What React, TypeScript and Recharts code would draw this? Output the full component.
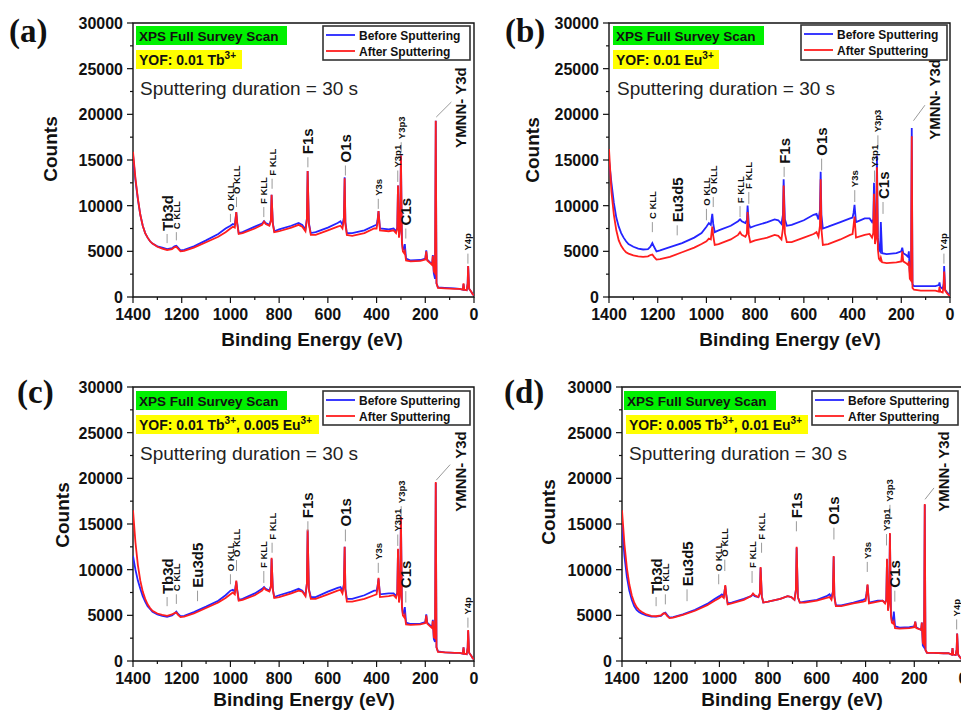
import React from "react";
import { LineChart, Line, XAxis, YAxis, ReferenceArea, ReferenceLine, ReferenceDot } from "recharts";

// binding energy grid (eV), shared by all four spectra
const energy = [
  1400, 1390, 1380, 1370, 1360, 1350, 1340, 1330, 1320,
  1300, 1280, 1260, 1240, 1230, 1222, 1215, 1205, 1190,
  1150, 1100, 1050, 1020, 1000, 990, 982, 976, 972, 966,
  950, 900, 870, 862, 855, 840, 834, 831, 826, 820,
  800, 750, 720, 705, 692, 686, 683, 678, 670, 650,
  600, 560, 548, 540, 534, 531, 528, 522, 500, 450,
  410, 400, 396, 392, 386, 350, 330, 320, 315, 312,
  308, 303, 300, 296, 292, 287, 284, 279, 260, 220,
  200, 196, 192, 180, 172, 169, 165, 160, 157, 154,
  148, 120, 80, 60, 46, 43, 40, 30, 26, 24,
  20, 12, 5, 0,
];

// (a) YOF: 0.01 Tb
const afterA = [
  15900, 13000, 10800, 9000, 7800, 7000, 6500, 6100, 5850,
  5500, 5300, 5150, 5250, 5450, 5500, 5300, 5000, 5050,
  5400, 6000, 6600, 7100, 7500, 7700, 7600, 9300, 8000, 6900,
  7000, 7500, 7900, 8250, 8000, 7800, 8300, 11200, 8000, 7100,
  7200, 7600, 7900, 7700, 7200, 8500, 13800, 8000, 6800, 6800,
  7300, 7700, 7800, 7500, 8500, 13000, 8000, 6800, 6700, 7000,
  7500, 7500, 8200, 9400, 7300, 7200, 7300, 7000, 7500, 12200,
  6500, 7500, 15500, 6000, 5000, 4800, 5000, 4000, 3900, 3950,
  4100, 5000, 4000, 3700, 3500, 4500, 2800, 2600, 19300, 1500,
  1000, 950, 900, 900, 800, 1500, 800, 750, 1500, 3400,
  900, 600, 300, 200,
];
const beforeA = [
  15600, 12800, 10700, 9000, 7800, 7000, 6500, 6100, 5850,
  5550, 5400, 5250, 5350, 5550, 5600, 5400, 5100, 5150,
  5550, 6200, 6900, 7500, 7800, 8000, 7900, 9300, 8100, 7000,
  7100, 7700, 8050, 8300, 8100, 7900, 8400, 11200, 8100, 7200,
  7400, 7800, 8100, 7900, 7400, 8600, 13800, 8100, 7000, 7100,
  7600, 8100, 8300, 7900, 8700, 13100, 8200, 7000, 7000, 7300,
  7800, 7900, 8400, 9400, 7500, 7400, 7500, 7200, 7600, 12200,
  6600, 7600, 15500, 6100, 5200, 5200, 5800, 4200, 4000, 4050,
  4200, 5100, 4100, 3800, 3600, 4600, 2600, 2000, 19300, 1500,
  1050, 1000, 950, 900, 800, 1400, 800, 750, 1500, 3400,
  900, 600, 300, 200,
];

// (b) YOF: 0.01 Eu
const afterB = [
  16200, 11500, 9000, 7300, 6200, 5600, 5200, 4900, 4750,
  4550, 4450, 4400, 4450, 4600, 4650, 4400, 4100, 4150,
  4400, 4900, 5400, 5800, 6100, 6400, 6300, 7700, 6700, 5700,
  5800, 6300, 6800, 7100, 6800, 6600, 6900, 9300, 6800, 6000,
  6200, 6500, 6800, 6700, 6300, 7500, 12200, 7000, 6000, 6000,
  6500, 6900, 7100, 6600, 7800, 12900, 7500, 5700, 5800, 6300,
  6800, 6900, 7800, 8800, 6500, 6800, 6900, 6500, 7000, 11300,
  5800, 6500, 14200, 5200, 4200, 4000, 4300, 3800, 3700, 3800,
  3900, 5000, 3900, 3700, 3500, 3900, 2000, 1800, 17600, 1000,
  800, 700, 700, 700, 600, 1100, 600, 500, 1200, 2800,
  700, 400, 200, 150,
];
const beforeB = [
  15000, 12500, 10300, 8700, 7700, 7000, 6500, 6100, 5800,
  5500, 5300, 5200, 5250, 5500, 5900, 5500, 5000, 5100,
  5450, 5900, 6500, 7000, 7700, 8100, 7900, 9100, 8000, 7100,
  7300, 7800, 8300, 8500, 8300, 8100, 8400, 10000, 8000, 7600,
  7800, 8200, 8500, 8400, 8000, 9000, 12900, 8500, 7800, 7900,
  8400, 9000, 9100, 8500, 9500, 13700, 9000, 7500, 7700, 8200,
  8600, 8700, 9200, 10100, 8200, 8600, 8600, 8200, 8500, 12500,
  7000, 7800, 15500, 6500, 5200, 5000, 8200, 4800, 4700, 4800,
  5000, 5400, 4800, 4600, 4400, 5000, 2700, 2200, 18500, 1400,
  1200, 1200, 1200, 1200, 1300, 1600, 1100, 900, 1500, 3400,
  800, 500, 300, 200,
];

// (c) YOF: 0.01 Tb, 0.005 Eu
const afterC = [
  16500, 13000, 10500, 8800, 7600, 6800, 6200, 5800, 5500,
  5200, 5050, 4950, 5100, 5250, 5300, 5050, 4800, 4850,
  5200, 5800, 6400, 6900, 7300, 7500, 7300, 8800, 7700, 6600,
  6700, 7200, 7700, 8000, 7800, 7600, 8100, 11300, 7800, 6900,
  7000, 7400, 7700, 7600, 7100, 8500, 14400, 7800, 6800, 6800,
  7300, 7700, 7800, 7400, 8300, 12500, 7800, 6500, 6500, 6800,
  7200, 7300, 8000, 9100, 7000, 7100, 7200, 6900, 7400, 12300,
  6400, 7400, 15800, 6000, 5000, 4800, 5000, 4000, 3950, 4000,
  4150, 5000, 4100, 3800, 3600, 4400, 2600, 2500, 19600, 1500,
  1000, 950, 900, 900, 800, 1500, 800, 750, 1500, 3400,
  900, 600, 300, 200,
];
const beforeC = [
  11500, 10000, 8800, 7900, 7100, 6500, 6000, 5700, 5400,
  5100, 4950, 4850, 5000, 5200, 5400, 5150, 4900, 4950,
  5350, 5950, 6600, 7200, 7700, 7800, 7600, 8700, 7800, 6700,
  6800, 7400, 7900, 8100, 7900, 7700, 8200, 11200, 7900, 7000,
  7200, 7600, 7900, 7700, 7200, 8500, 14300, 7900, 7000, 7000,
  7600, 8000, 8100, 7700, 8400, 12500, 7900, 6800, 6800, 7200,
  7700, 7700, 8200, 9000, 7300, 7400, 7400, 7100, 7500, 12200,
  6500, 7500, 15700, 6100, 5200, 5200, 5900, 4200, 4050, 4100,
  4250, 5100, 4200, 3900, 3700, 4500, 2400, 2100, 19500, 1500,
  1050, 950, 900, 900, 800, 1500, 800, 750, 1500, 3300,
  900, 600, 300, 200,
];

// (d) YOF: 0.005 Tb, 0.01 Eu
const afterD = [
  16500, 12800, 10200, 8400, 7200, 6400, 5900, 5600, 5400,
  5100, 4950, 4900, 5000, 5200, 5200, 4950, 4700, 4750,
  5050, 5500, 6100, 6600, 6900, 7100, 6900, 8300, 7200, 6200,
  6300, 6700, 7100, 7400, 7200, 7000, 7400, 10300, 7100, 6400,
  6500, 6800, 7100, 7000, 6700, 7800, 12500, 7000, 6400, 6400,
  6600, 6900, 7000, 6700, 7500, 11500, 7000, 6000, 6000, 6300,
  6500, 6600, 7300, 8400, 6300, 6500, 6600, 6300, 6700, 11200,
  5500, 6600, 14000, 5000, 4200, 4100, 4300, 3600, 3550, 3600,
  3700, 4300, 3600, 3500, 3400, 4200, 2000, 1800, 17200, 1200,
  900, 900, 850, 850, 700, 1400, 700, 650, 1300, 3000,
  700, 400, 200, 100,
];
const beforeD = [
  15000, 11500, 9200, 7700, 6700, 6000, 5600, 5350, 5200,
  5000, 4850, 4850, 4950, 5200, 5300, 5050, 4750, 4800,
  5100, 5600, 6250, 6800, 7100, 7300, 7100, 8200, 7300, 6300,
  6400, 6800, 7100, 7300, 7100, 7000, 7400, 10200, 7100, 6400,
  6500, 6800, 7100, 7000, 6700, 7800, 12400, 7000, 6400, 6500,
  6700, 7100, 7300, 7000, 7600, 11400, 7100, 6100, 6100, 6400,
  6700, 6800, 7400, 8300, 6400, 6600, 6600, 6400, 6700, 11100,
  5600, 6700, 13900, 5200, 4400, 4400, 5400, 3800, 3650, 3700,
  3800, 4300, 3700, 3500, 3400, 4200, 1700, 1500, 17100, 1200,
  900, 900, 850, 850, 700, 1400, 700, 650, 1300, 3000,
  700, 400, 200, 100,
];

const xTicks = [0, 100, 200, 300, 400, 500, 600, 700, 800, 900, 1000, 1100, 1200, 1300, 1400];
const yTicks = [0, 2500, 5000, 7500, 10000, 12500, 15000, 17500, 20000, 22500, 25000, 27500, 30000];

// peak labels: [text, eV, leader bottom, leader top]
type Note = [string, number, number, number];
const notesA: Note[] = [
  ["Tb3d", 1260, 5900, 6900], ["C KLL", 1222, 6200, 7100], ["O KLL", 1000, 8200, 9100],
  ["O KLL", 975, 9850, 10950], ["F KLL", 863, 8750, 9850], ["F KLL", 829, 11850, 12950],
  ["F1s", 682, 14200, 15300], ["O1s", 528, 13300, 14400], ["Y3s", 393, 9650, 10750],
  ["Y3p1", 313, 12600, 13850], ["Y3p3", 299, 15850, 16950], ["C1s", 280, 6400, 7500],
  ["Y4p", 25, 3650, 4750],
];
const notesB: Note[] = [
  ["C KLL", 1222, 7100, 8200], ["Eu3d5", 1120, 6750, 7850], ["O KLL", 1000, 8400, 9650],
  ["O KLL", 972, 9850, 10950], ["F KLL", 862, 8750, 9950], ["F KLL", 826, 10200, 11500],
  ["F1s", 681, 13150, 14250], ["O1s", 527, 13850, 15150], ["Y3s", 391, 10400, 11700],
  ["Y3p1", 310, 12600, 13850], ["Y3p3", 296, 16400, 17700], ["C1s", 275, 9100, 10400],
  ["Y4p", 25, 3650, 4750],
];
const notesC: Note[] = [
  ["Tb3d", 1260, 6000, 7000], ["C KLL", 1222, 6250, 7300], ["Eu3d5", 1135, 6550, 7700],
  ["O KLL", 1000, 8400, 9500], ["O KLL", 975, 9850, 11050], ["F KLL", 863, 8550, 9850],
  ["F KLL", 829, 11850, 12950], ["F1s", 682, 14200, 15300], ["O1s", 528, 13100, 14400],
  ["Y3s", 393, 9650, 10750], ["Y3p1", 313, 12600, 13850], ["Y3p3", 299, 15850, 16950],
  ["C1s", 280, 6400, 7650], ["Y4p", 25, 3650, 4750],
];
const notesD: Note[] = [
  ["Tb3d", 1260, 6000, 7000], ["C KLL", 1222, 6200, 7300], ["Eu3d5", 1133, 6550, 7850],
  ["O KLL", 1003, 8400, 9500], ["O KLL", 978, 9850, 11100], ["F KLL", 866, 8550, 9850],
  ["F KLL", 827, 11850, 12950], ["F1s", 684, 14200, 15300], ["O1s", 530, 13300, 14600],
  ["Y3s", 393, 9750, 10850], ["Y3p1", 314, 12650, 13900], ["Y3p3", 300, 16000, 17100],
  ["C1s", 280, 6500, 7700], ["Y4p", 26, 3450, 4550],
];

// YMNN- Y3d: leader from [eV, counts] to [eV, counts], label start [eV, counts]
const y3dA = [155, 19700, 93, 21350, 55, 15700];
const y3dB = [150, 19300, 103, 21000, 62, 16600];
const y3dC = [155, 19800, 98, 21500, 57, 15700];
const y3dD = [156, 17700, 119, 18950, 78, 15700];

const dopantsA = [["0.01", "Tb"]];
const dopantsB = [["0.01", "Eu"]];
const dopantsC = [["0.01", "Tb"], ["0.005", "Eu"]];
const dopantsD = [["0.005", "Tb"], ["0.01", "Eu"]];

const bigLabels = ["Tb3d", "Eu3d5", "F1s", "O1s", "C1s", "YMNN- Y3d"];

const SANS = '"Liberation Sans", Arial, sans-serif';
const SERIF = '"Liberation Serif", "Times New Roman", serif';
const W = 490;
const H = 355;
const PW = 341;
const PH = 274;

function YTick(props: any) {
  const { x, y, payload } = props;
  const major = payload.value % 5000 === 0;
  return (
    <g>
      <line x1={x + (major ? 4 : 7)} x2={x + 10} y1={y} y2={y} stroke="#111" strokeWidth={1.2} />
      {major && (
        <text x={x} y={y + 6} textAnchor="end" fontSize={16} fontWeight="bold" fill="#111">
          {payload.value}
        </text>
      )}
    </g>
  );
}

function XTick(props: any) {
  const { x, y, payload } = props;
  const major = payload.value % 200 === 0;
  return (
    <g>
      <line x1={x} x2={x} y1={y - 8} y2={y - (major ? 2 : 5)} stroke="#111" strokeWidth={1.2} />
      {major && (
        <text x={x} y={y + 15} textAnchor="middle" fontSize={16} fontWeight="bold" fill="#111">
          {payload.value}
        </text>
      )}
    </g>
  );
}

function noteShape(label: string) {
  const size = bigLabels.includes(label) ? 15 : 9.5;
  return (p: any) => {
    const ty = p.cy - 3;
    return (
      <text
        x={p.cx}
        y={ty}
        transform={`rotate(-90 ${p.cx} ${ty})`}
        textAnchor="start"
        dominantBaseline="central"
        fontSize={size}
        fontWeight="bold"
        fill="#111"
      >
        {label}
      </text>
    );
  };
}

type Box = {
  left: number; top: number; plotLeft: number; plotTop: number;
  letter: number[]; green: number[]; yellow: number[]; sput: number[];
  legend: number[]; counts: number[]; title: number[];
};

const boxA: Box = {
  left: 0, top: 0, plotLeft: 133, plotTop: 23,
  letter: [9, 42], green: [136, 26, 151], yellow: [136, 50, 106], sput: [140, 95],
  legend: [323, 26, 147, 34], counts: [50, 149], title: [312, 346],
};
const boxB: Box = {
  left: 480, top: 0, plotLeft: 129, plotTop: 23,
  letter: [25, 42], green: [133, 26, 151], yellow: [133, 50, 106], sput: [137, 95],
  legend: [321, 25, 146, 35], counts: [52, 150], title: [310, 346],
};
const boxC: Box = {
  left: 0, top: 355, plotLeft: 133, plotTop: 32,
  letter: [17, 48], green: [136, 36, 151], yellow: [136, 60, 183], sput: [140, 105],
  legend: [323, 36, 147, 34], counts: [62, 160], title: [304, 351],
};
const boxD: Box = {
  left: 480, top: 355, plotLeft: 142, plotTop: 32,
  letter: [24, 48], green: [144, 36, 152], yellow: [146, 60, 182], sput: [149, 105],
  legend: [332, 36, 146, 34], counts: [68, 157], title: [312, 351],
};

function Panel({ letter, before, after, notes, y3d, dopants, box }: {
  letter: string; before: number[]; after: number[]; notes: Note[];
  y3d: number[]; dopants: string[][]; box: Box;
}) {
  const rows = energy.map((e, i) => ({ e, before: before[i], after: after[i] }));
  const margin = {
    top: box.plotTop,
    right: W - box.plotLeft - PW,
    bottom: H - box.plotTop - PH - 30,
    left: box.plotLeft - 70,
  };
  const [gx, gy, gw] = box.green;
  const [yx, yy, yw] = box.yellow;
  const [lx, ly, lw, lh] = box.legend;
  return (
    <div style={{ position: "absolute", left: box.left, top: box.top, width: W, height: H }}>
      <LineChart width={W} height={H} data={rows} margin={margin}>
        <XAxis
          type="number"
          dataKey="e"
          domain={[0, 1400]}
          reversed
          ticks={xTicks}
          interval={0}
          tick={(p: any) => <XTick {...p} />}
          tickLine={false}
          axisLine={false}
          tickSize={6}
          tickMargin={2}
          height={30}
          allowDataOverflow
        />
        <YAxis
          type="number"
          domain={[0, 30000]}
          ticks={yTicks}
          interval={0}
          tick={(p: any) => <YTick {...p} />}
          tickLine={false}
          axisLine={false}
          tickSize={6}
          tickMargin={4}
          width={70}
          allowDataOverflow
        />
        <ReferenceArea x1={0} x2={1400} y1={0} y2={30000} fill="none" stroke="#111" strokeWidth={1.4} />
        <Line type="linear" dataKey="before" stroke="#2424ff" strokeWidth={1.8} dot={false} isAnimationActive={false} />
        <Line type="linear" dataKey="after" stroke="#ff1e1e" strokeWidth={1.8} dot={false} isAnimationActive={false} />
        {notes.map(([label, ev, lo, hi], i) => (
          <ReferenceLine key={"l" + i} segment={[{ x: ev, y: lo }, { x: ev, y: hi }]} stroke="#9a9a9a" strokeWidth={1} />
        ))}
        {notes.map(([label, ev, lo, hi], i) => (
          <ReferenceDot key={"t" + i} x={ev} y={hi} shape={noteShape(label)} />
        ))}
        <ReferenceLine segment={[{ x: y3d[0], y: y3d[1] }, { x: y3d[2], y: y3d[3] }]} stroke="#9a9a9a" strokeWidth={1} />
        <ReferenceDot x={y3d[4]} y={y3d[5] + 300} shape={noteShape("YMNN- Y3d")} />
      </LineChart>
      <svg width={W} height={H} style={{ position: "absolute", left: 0, top: 0, pointerEvents: "none" }}>
        <text x={box.letter[0]} y={box.letter[1]} fontFamily={SERIF} fontWeight="bold" fontSize={33} fill="#111">
          ({letter})
        </text>
        <rect x={gx} y={gy} width={gw} height={19} fill="#00f000" />
        <text x={gx + 3} y={gy + 14.5} fontSize={13.5} fontWeight="bold" fill="#111">
          XPS Full Survey Scan
        </text>
        <rect x={yx} y={yy} width={yw} height={19} fill="#ffff00" />
        <text x={yx + 3} y={yy + 15} fontSize={14} fontWeight="bold" fill="#111">
          {dopants.map(([amt, ion], i) => (
            <React.Fragment key={i}>
              <tspan dy={i ? 6 : 0}>{(i ? ", " : "YOF: ") + amt + " " + ion}</tspan>
              <tspan fontSize={10} dy={-6}>3+</tspan>
            </React.Fragment>
          ))}
        </text>
        <text x={box.sput[0]} y={box.sput[1]} fontSize={19} fill="#222">
          Sputtering duration = 30 s
        </text>
        <rect x={lx} y={ly} width={lw} height={lh} fill="#fff" stroke="#333" strokeWidth={1.6} />
        <line x1={lx + 3} x2={lx + 32} y1={ly + 9} y2={ly + 9} stroke="#2424ff" strokeWidth={1.8} />
        <line x1={lx + 3} x2={lx + 32} y1={ly + 25} y2={ly + 25} stroke="#ff1e1e" strokeWidth={1.8} />
        <text x={lx + 36} y={ly + 13.5} fontSize={12} fontWeight="bold" fill="#111">Before Sputtering</text>
        <text x={lx + 36} y={ly + 29.5} fontSize={12} fontWeight="bold" fill="#111">After Sputtering</text>
        <text
          x={box.counts[0]}
          y={box.counts[1]}
          transform={`rotate(-90 ${box.counts[0]} ${box.counts[1]})`}
          textAnchor="middle"
          dominantBaseline="central"
          fontSize={19}
          fontWeight="bold"
          fill="#111"
        >
          Counts
        </text>
        <text x={box.title[0]} y={box.title[1]} textAnchor="middle" fontSize={19} fontWeight="bold" fill="#111">
          Binding Energy (eV)
        </text>
      </svg>
    </div>
  );
}

export default function App() {
  return (
    <div
      style={{
        position: "absolute",
        left: 0,
        top: 0,
        width: 961,
        height: 710,
        overflow: "hidden",
        background: "#fff",
        fontFamily: SANS,
      }}
    >
      <Panel letter="a" before={beforeA} after={afterA} notes={notesA} y3d={y3dA} dopants={dopantsA} box={boxA} />
      <Panel letter="b" before={beforeB} after={afterB} notes={notesB} y3d={y3dB} dopants={dopantsB} box={boxB} />
      <Panel letter="c" before={beforeC} after={afterC} notes={notesC} y3d={y3dC} dopants={dopantsC} box={boxC} />
      <Panel letter="d" before={beforeD} after={afterD} notes={notesD} y3d={y3dD} dopants={dopantsD} box={boxD} />
    </div>
  );
}
